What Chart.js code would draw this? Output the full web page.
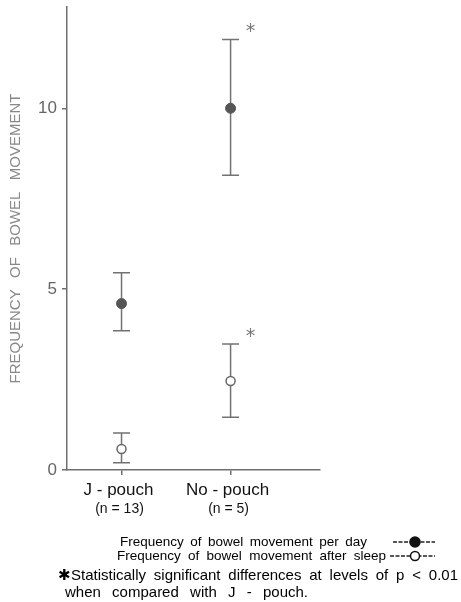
<!DOCTYPE html>
<html>
<head>
<meta charset="utf-8">
<script src="https://cdn.jsdelivr.net/npm/chart.js@4"></script>
<style>
  body { margin: 0; background: #fff; }
  #wrap { width: 461px; height: 602px; }
</style>
</head>
<body>
<div id="wrap"><canvas id="grafica" width="461" height="602"></canvas></div>
<script>
// ================= DATOS =================
const categories = ['J - pouch', 'No - pouch'];
const groupSizes = ['(n = 13)', '(n = 5)'];
const perDayMean = [4.6, 10.0];
const perDayLow  = [3.85, 8.15];
const perDayHigh = [5.45, 11.9];
const sleepMean  = [0.58, 2.46];
const sleepLow   = [0.2, 1.46];
const sleepHigh  = [1.02, 3.48];
const significant = [false, true];
const yTicks = [0, 5, 10];
const yTitle = 'FREQUENCY OF BOWEL MOVEMENT';
const legendLabels = ['Frequency of bowel movement per day', 'Frequency of bowel movement after sleep'];
const noteLines = ['\u2731Statistically significant differences at levels of p < 0.01', 'when compared with J - pouch.'];

const AXIS = '#6f6f6f';

// texto ajustado a un ancho (espaciado entre palabras)
function fitText(ctx, text, x0, x1, y) {
    ctx.wordSpacing = '0px';
    const w = ctx.measureText(text).width;
    const n = text.split(' ').length - 1;
    if (n > 0) ctx.wordSpacing = Math.max(0, (x1 - x0 - w) / n) + 'px';
    ctx.textAlign = 'left';
    ctx.fillText(text, x0, y);
    ctx.wordSpacing = '0px';
}

// ================= BARRAS DE ERROR =================
const errorBars = {
    id: 'errorBars',
    beforeDatasetsDraw(chart) {
        const { ctx, scales: { x, y } } = chart;
        const sets = [[perDayLow, perDayHigh], [sleepLow, sleepHigh]];
        ctx.save();
        ctx.strokeStyle = '#727272';
        ctx.lineWidth = 1.5;
        sets.forEach(([lo, hi]) => {
            lo.forEach((v, i) => {
                const px = x.getPixelForValue(i + 1);
                const y0 = y.getPixelForValue(v);
                const y1 = y.getPixelForValue(hi[i]);
                ctx.beginPath();
                ctx.moveTo(px, y0); ctx.lineTo(px, y1);
                ctx.moveTo(px - 8.5, y0); ctx.lineTo(px + 8.5, y0);
                ctx.moveTo(px - 8.5, y1); ctx.lineTo(px + 8.5, y1);
                ctx.stroke();
            });
        });
        ctx.restore();
    },
    afterDraw(chart) {
        const { ctx, scales: { x, y } } = chart;
        ctx.save();

        // asteriscos
        ctx.fillStyle = '#777';
        ctx.font = '19px "DejaVu Sans"';
        ctx.textAlign = 'center';
        ctx.textBaseline = 'middle';
        significant.forEach((s, i) => {
            if (!s) return;
            const px = x.getPixelForValue(i + 1);
            [perDayHigh[i], sleepHigh[i]].forEach(v => {
                ctx.fillText('*', px + 20, y.getPixelForValue(v) - 7);
            });
        });

        // titulo eje Y
        ctx.save();
        ctx.translate(16, (chart.chartArea.top + chart.chartArea.bottom) / 2);
        ctx.rotate(-Math.PI / 2);
        ctx.fillStyle = '#888';
        ctx.font = '15px "Liberation Sans"';
        ctx.textBaseline = 'middle';
        fitText(ctx, yTitle, -145, 145, 0);
        ctx.restore();

        // etiquetas eje X
        ctx.fillStyle = '#111';
        ctx.textAlign = 'center';
        ctx.textBaseline = 'middle';
        categories.forEach((c, i) => {
            const px = x.getPixelForValue(i + 1);
            ctx.font = '17px "Liberation Sans"';
            ctx.fillText(c, px - 3, 490);
            ctx.font = '14px "Liberation Sans"';
            ctx.fillText(groupSizes[i], px - 2, 509);
        });

        // leyenda
        ctx.fillStyle = '#000';
        ctx.font = '13.5px "Liberation Sans"';
        ctx.textBaseline = 'middle';
        fitText(ctx, legendLabels[0], 120, 367, 542);
        fitText(ctx, legendLabels[1], 117, 386, 556);
        chart.data.datasets.forEach((ds, k) => {
            const ly = [542, 556][k];
            ctx.strokeStyle = '#222';
            ctx.lineWidth = 1.5;
            ctx.setLineDash([4, 1.5]);
            ctx.beginPath();
            ctx.moveTo(k ? 390 : 393, ly); ctx.lineTo(435, ly);
            ctx.stroke();
            ctx.setLineDash([]);
            ctx.beginPath();
            ctx.arc(415, ly, ds.pointRadius, 0, Math.PI * 2);
            ctx.fillStyle = k ? '#fff' : '#111';
            ctx.fill();
            ctx.strokeStyle = '#111';
            ctx.stroke();
        });

        // nota
        ctx.fillStyle = '#000';
        ctx.font = '15px "Liberation Sans"';
        fitText(ctx, noteLines[0], 58, 458, 576);
        fitText(ctx, noteLines[1], 65, 308, 593);

        ctx.restore();
    }
};

// ================= GRAFICA =================
new Chart(document.getElementById('grafica'), {
    type: 'scatter',
    data: {
        datasets: [{
            label: legendLabels[0],
            data: perDayMean.map((v, i) => ({ x: i + 1, y: v })),
            pointRadius: 5,
            backgroundColor: '#555',
            borderColor: '#555',
            borderWidth: 1
        }, {
            label: legendLabels[1],
            data: sleepMean.map((v, i) => ({ x: i + 1, y: v })),
            pointRadius: 4.5,
            backgroundColor: '#fff',
            borderColor: '#666',
            borderWidth: 1.5
        }]
    },
    options: {
        responsive: false,
        animation: false,
        layout: { padding: { left: 0, top: 7, right: 141, bottom: 132 } },
        plugins: { legend: { display: false }, tooltip: { enabled: false } },
        scales: {
            x: {
                type: 'linear',
                min: 0.5,
                max: 2.82,
                afterBuildTicks: s => { s.ticks = [{ value: 1 }, { value: 2 }]; },
                afterFit: s => { s.height = 0; s.paddingLeft = 0; s.paddingRight = 0; },
                ticks: { display: false },
                grid: { drawOnChartArea: false, drawTicks: true, tickLength: 5, color: AXIS, lineWidth: 1.5 },
                border: { display: true, color: AXIS, width: 1.5 }
            },
            y: {
                min: 0,
                max: 12.8,
                afterBuildTicks: s => { s.ticks = yTicks.map(v => ({ value: v })); },
                afterFit: s => { s.width = 67; s.paddingTop = 0; s.paddingBottom = 0; },
                ticks: {
                    color: '#666',
                    padding: 5,
                    font: { family: '"Liberation Sans"', size: 17 }
                },
                grid: { drawOnChartArea: false, drawTicks: true, tickLength: 5, color: AXIS, lineWidth: 1.5 },
                border: { display: true, color: AXIS, width: 1.5 }
            }
        }
    },
    plugins: [errorBars]
});
</script>
</body>
</html>
